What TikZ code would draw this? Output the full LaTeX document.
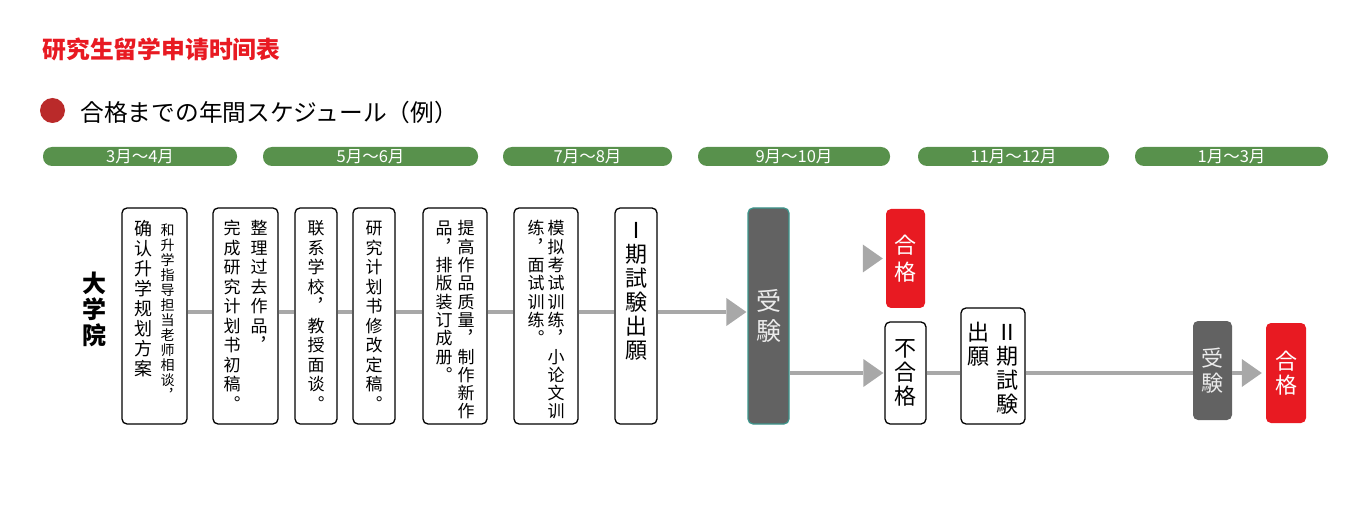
\documentclass[tikz,border=0pt]{standalone}
\usepackage{fontspec}
\setmainfont{Noto Sans CJK SC}
\newfontfamily\jpfont{Noto Sans CJK JP}
\usetikzlibrary{arrows.meta}
\definecolor{G1}{RGB}{88,145,76}
\definecolor{R1}{RGB}{232,26,34}
\definecolor{R2}{RGB}{186,42,42}
\definecolor{K1}{RGB}{98,98,98}
\definecolor{T1}{RGB}{60,150,140}
\definecolor{L1}{RGB}{168,168,168}
\newcommand\vcol[3]{\vtop{\fontsize{#1}{#2}\selectfont\lineskiplimit=-\maxdimen\vcolrun#3\relax}}
\def\vcolrun#1{\ifx\relax#1\else\hbox to 1em{\hss#1\hss}\expandafter\vcolrun\fi}

\begin{document}
\begin{tikzpicture}[x=1pt,y=-1pt,
    month/.style={fill=G1,rounded corners=9pt,minimum height=19pt,inner sep=0pt,text=white,font=\fontsize{16.5}{16.5}\selectfont},
    card/.style={draw=black,line width=1.3pt,rounded corners=5pt,fill=white,inner sep=0pt,minimum width=#1,text height=27pt,text depth=189pt},
    tag/.style={rounded corners=5pt,inner sep=0pt,minimum width=40pt},
    link/.style={draw=L1,line width=4pt},
    arr/.style={-{Triangle[length=20pt,width=28pt,line width=0pt]},shorten >=1pt}]
  \useasboundingbox (0,0) rectangle (1361,505);
  \node[anchor=west,text=R1,font=\bfseries\fontsize{23.8}{24}\selectfont] (title) at (39,49) {研究生留学申请时间表};
  \node[circle,fill=R2,inner sep=0pt,minimum size=25pt] (dot) at (52.5,110.5) {};
  \node[anchor=west,font=\jpfont\fontsize{23.7}{24}\selectfont] (head) at (77,112) {合格までの年間スケジュール（例）};

  \node[month,minimum width=194pt] (m1) at (140,156.5) {3月～4月};
  \node[month,minimum width=215pt] (m2) at (370.5,156.5) {5月～6月};
  \node[month,minimum width=169pt] (m3) at (587.5,156.5) {7月～8月};
  \node[month,minimum width=192pt] (m4) at (794,156.5) {9月～10月};
  \node[month,minimum width=191pt] (m5) at (1013.5,156.5) {11月～12月};
  \node[month,minimum width=193pt] (m6) at (1231.5,156.5) {1月～3月};

  \node[font=\bfseries] (univ) at (94,309) {\vcol{24}{26}{大学院}};

  \node[card=65pt,text height=28pt,text depth=188pt] (b1) at (154.5,316) {\vcol{18}{20}{确认升学规划方案}\hspace{8pt}\vcol{14}{15}{和升学指导担当老师相谈︐}};
  \node[card=65pt] (b2) at (245.5,316) {\vcol{17}{19.5}{完成研究计划书初稿︒}\hspace{10pt}\vcol{17}{19.5}{整理过去作品︐}};
  \node[card=42pt] (b3) at (316,316) {\vcol{17}{19.5}{联系学校︐教授面谈︒}};
  \node[card=42pt] (b4) at (374,316) {\vcol{17}{19.5}{研究计划书修改定稿︒}};
  \node[card=64pt] (b5) at (455,316) {\vcol{17}{18.3}{品︐排版装订成册︒}\hspace{5pt}\vcol{17}{18.3}{提高作品质量︐制作新作}};
  \node[card=64pt] (b6) at (546,316) {\vcol{17}{18.3}{练︐面试训练︒}\hspace{3pt}\vcol{17}{18.3}{模拟考试训练︐小论文训}};
  \node[card=42pt,font=\jpfont,text height=31pt,text depth=185pt] (b7) at (636,316) {\vcol{22}{24}{Ⅰ期試験出願}};

  \node[tag,fill=K1,draw=T1,line width=1.2pt,minimum width=41pt,minimum height=216pt,text=white!92!black,font=\jpfont] (exam1) at (768.5,316) {\vcol{25}{30}{受験}};
  \node[tag,fill=R1,minimum width=39pt,minimum height=99pt,text=white,font=\jpfont] (pass1) at (905.5,258.5) {\vcol{22}{27}{合格}};
  \node[tag,draw=black,line width=1.3pt,fill=white,minimum width=41pt,minimum height=102pt,font=\jpfont] (fail) at (905.5,373) {\vcol{22}{24}{不合格}};
  \node[card=64pt,font=\jpfont,text height=33pt,text depth=83pt] (apply2) at (993,366) {\vcol{22}{24}{出願}\hspace{7pt}\vcol{22}{24}{Ⅱ期試験}};
  \node[tag,fill=K1,minimum width=39pt,minimum height=99pt,text=white!92!black,font=\jpfont] (exam2) at (1212.5,370.5) {\vcol{22}{25}{受験}};
  \node[tag,fill=R1,minimum width=40pt,minimum height=100pt,text=white,font=\jpfont] (pass2) at (1286,373) {\vcol{22}{24}{合格}};
  \coordinate (okin) at (863,258.5);

  \foreach \a/\b in {b1/b2,b2/b3,b3/b4,b4/b5,b5/b6,b6/b7}
    \draw[link] ([yshift=4pt]\a.east) -- ([yshift=4pt]\b.west);
  \draw[link,arr] ([yshift=4pt]b7.east) -- ([yshift=4pt]exam1.west);
  \draw[link,arr,shorten >=3pt] (okin) -- (pass1.west);
  \draw[link,arr] (exam1.east |- fail.west) -- (fail.west);
  \draw[link] (fail.east) -- (fail.east -| apply2.west);
  \draw[link] (fail.east -| apply2.east) -- (fail.east -| exam2.west);
  \draw[link,arr,shorten >=4pt] (fail.east -| exam2.east) -- (pass2.west);
\end{tikzpicture}
\end{document}
